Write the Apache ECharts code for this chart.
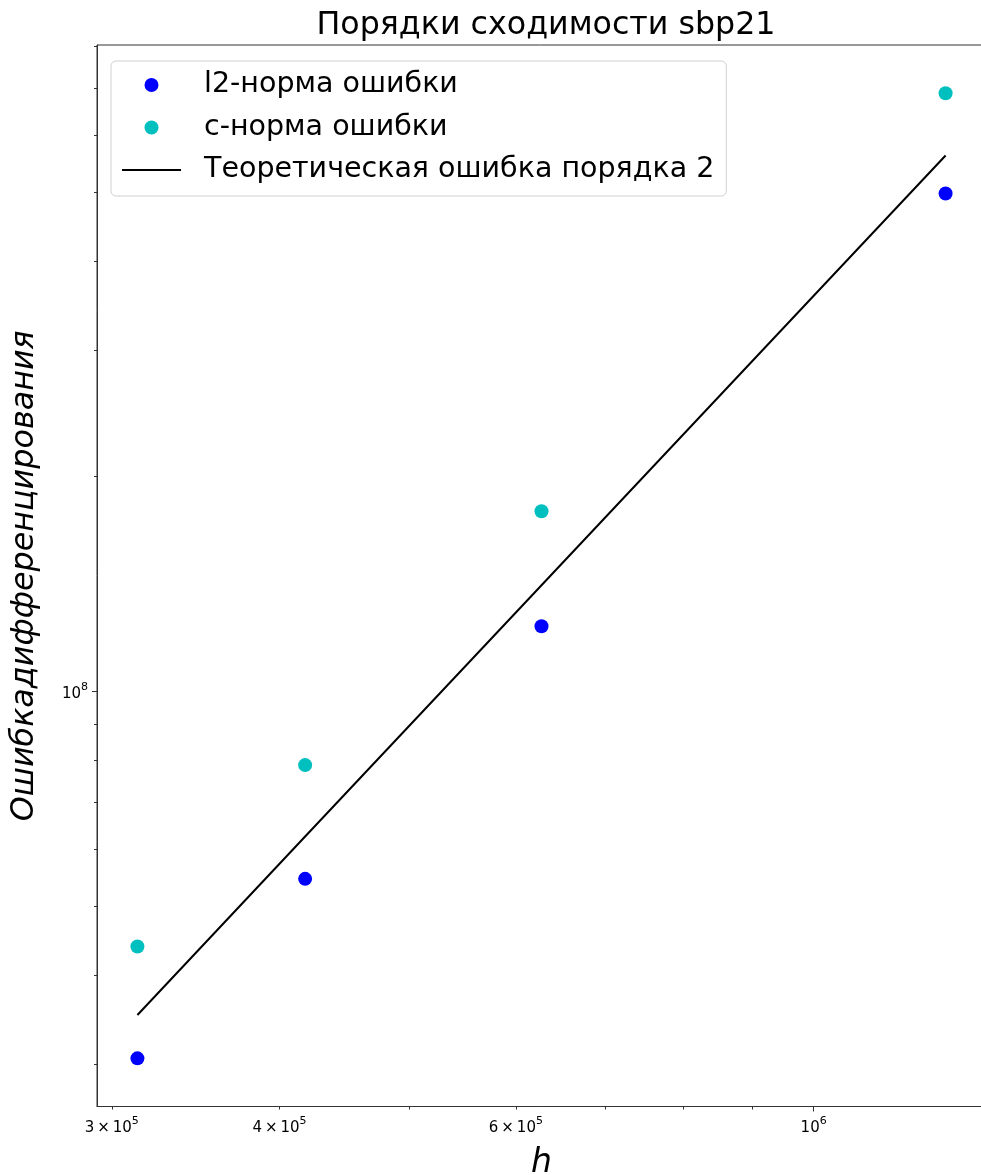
<!DOCTYPE html>
<html>
<head>
<meta charset="utf-8">
<script src="https://cdn.jsdelivr.net/npm/echarts@6/dist/echarts.min.js"></script>
<style>
  html, body { margin: 0; padding: 0; background: #fff; }
  #chart { width: 981px; height: 1175px; }
</style>
</head>
<body>
<div id="chart"></div>
<script>
// Step sizes h and the measured differentiation errors
const stepSizes = [3.135e5, 4.18e5, 6.27e5, 1.254e6];
const l2Errors = [3.06e7, 5.46e7, 1.233e8, 4.98e8];
const cErrors = [4.39e7, 7.88e7, 1.787e8, 6.88e8];
const theoryErrors = [3.52e7, 6.26e7, 1.4075e8, 5.63e8];

const seriesNames = ['l2-норма ошибки', 'c-норма ошибки', 'Теоретическая ошибка порядка 2'];

// Tick positions on the logarithmic axes
const xMinorTicks = [3e5, 4e5, 5e5, 6e5, 7e5, 8e5, 9e5];
const xMajorTicks = [1e6];
const xTickLabels = [3e5, 4e5, 6e5, 1e6];
const yMinorTicks = [3e7, 4e7, 5e7, 6e7, 7e7, 8e7, 9e7, 2e8, 3e8, 4e8, 5e8, 6e8, 7e8, 8e8];
const yMajorTicks = [1e8];
const yTickLabels = [1e8];

const FONT = 'DejaVu Sans';
const AXIS_COLOR = '#333';

function pairs(xs, ys) { return xs.map((x, i) => [x, ys[i]]); }

// Render 3e5 as "3 × 10^5" and 1e6 as "10^6"
function sciLabel(v) {
  const exp = Math.floor(Math.log10(v) + 1e-9);
  const mant = Math.round(v / Math.pow(10, exp));
  const base = mant === 1 ? '10' : mant + '\u2009×\u200910';
  return '{b|' + base + '}{s|' + exp + '}';
}
const sciRich = {
  b: { fontFamily: FONT, fontSize: 15, color: '#000', lineHeight: 20, verticalAlign: 'bottom' },
  s: { fontFamily: FONT, fontSize: 11, color: '#000', lineHeight: 11, verticalAlign: 'top' }
};

const chart = echarts.init(document.getElementById('chart'), null, { renderer: 'canvas' });

const option = {
  animation: false,
  backgroundColor: '#fff',
  title: {
    text: 'Порядки сходимости sbp21',
    left: 541, top: 5, textAlign: 'center',
    textStyle: { fontFamily: FONT, fontSize: 31.7, fontWeight: 'normal', color: '#000' }
  },
  grid: { show: true, borderColor: AXIS_COLOR, borderWidth: 1, backgroundColor: 'transparent',
          left: 97, width: 889, top: 45, height: 1061.5,
          containLabel: false, outerBoundsMode: 'none' },
  legend: {
    orient: 'vertical',
    left: 111, top: 61,
    data: [
      { name: seriesNames[0], icon: 'circle' },
      { name: seriesNames[1], icon: 'circle' },
      { name: seriesNames[2], icon: 'path://M0,0H59V2H0Z', itemStyle: { color: '#000' } }
    ],
    backgroundColor: '#fff',
    borderColor: '#d0d0d0', borderWidth: 1, borderRadius: 5,
    padding: [9, 12, 11, 11],
    itemWidth: 59, itemHeight: 14, itemGap: 12.5,
    textStyle: { fontFamily: FONT, fontSize: 28.5, color: '#000', lineHeight: 30, padding: [0, 0, 0, 18] }
  },
  xAxis: [{
    type: 'log', logBase: 10,
    min: 2.925e5, max: 1.344e6,
    name: 'h', nameLocation: 'middle', nameGap: 40,
    nameTextStyle: { fontFamily: FONT, fontSize: 33, fontStyle: 'italic', color: '#000' },
    axisLine: { show: true, lineStyle: { color: AXIS_COLOR, width: 1 } },
    axisTick: { show: true, length: 3, customValues: xMinorTicks, lineStyle: { color: AXIS_COLOR } },
    minorTick: { show: false },
    splitLine: { show: false },
    axisLabel: { customValues: xTickLabels, margin: 9, formatter: sciLabel, rich: sciRich }
  }, {
    type: 'log', logBase: 10, gridIndex: 0, position: 'bottom',
    min: 2.925e5, max: 1.344e6,
    axisLine: { show: false },
    axisTick: { show: true, length: 5, customValues: xMajorTicks, lineStyle: { color: AXIS_COLOR } },
    axisLabel: { show: false },
    splitLine: { show: false }
  }],
  yAxis: [{
    type: 'log', logBase: 10,
    min: 2.62e7, max: 8.04e8,
    name: 'Ошибкадифференцирования', nameLocation: 'middle', nameGap: 56, nameRotate: 90,
    nameTextStyle: { fontFamily: FONT, fontSize: 31.8, fontStyle: 'italic', color: '#000' },
    axisLine: { show: true, lineStyle: { color: AXIS_COLOR, width: 1 } },
    axisTick: { show: true, length: 3, customValues: yMinorTicks, lineStyle: { color: AXIS_COLOR } },
    minorTick: { show: false },
    splitLine: { show: false },
    axisLabel: { customValues: yTickLabels, margin: 9, formatter: sciLabel, rich: sciRich }
  }, {
    type: 'log', logBase: 10, gridIndex: 0, position: 'left',
    min: 2.62e7, max: 8.04e8,
    axisLine: { show: false },
    axisTick: { show: true, length: 5, customValues: yMajorTicks, lineStyle: { color: AXIS_COLOR } },
    axisLabel: { show: false },
    splitLine: { show: false }
  }],
  series: [{
    name: seriesNames[0], type: 'scatter',
    data: pairs(stepSizes, l2Errors),
    symbol: 'circle', symbolSize: 14,
    itemStyle: { color: '#0000ff', opacity: 1 }
  }, {
    name: seriesNames[1], type: 'scatter',
    data: pairs(stepSizes, cErrors),
    symbol: 'circle', symbolSize: 14,
    itemStyle: { color: '#00bfbf', opacity: 1 }
  }, {
    name: seriesNames[2], type: 'line',
    data: pairs(stepSizes, theoryErrors),
    symbol: 'none', showSymbol: false,
    lineStyle: { color: '#000', width: 2 },
    itemStyle: { color: '#000' }
  }]
};

chart.setOption(option);
</script>
</body>
</html>
